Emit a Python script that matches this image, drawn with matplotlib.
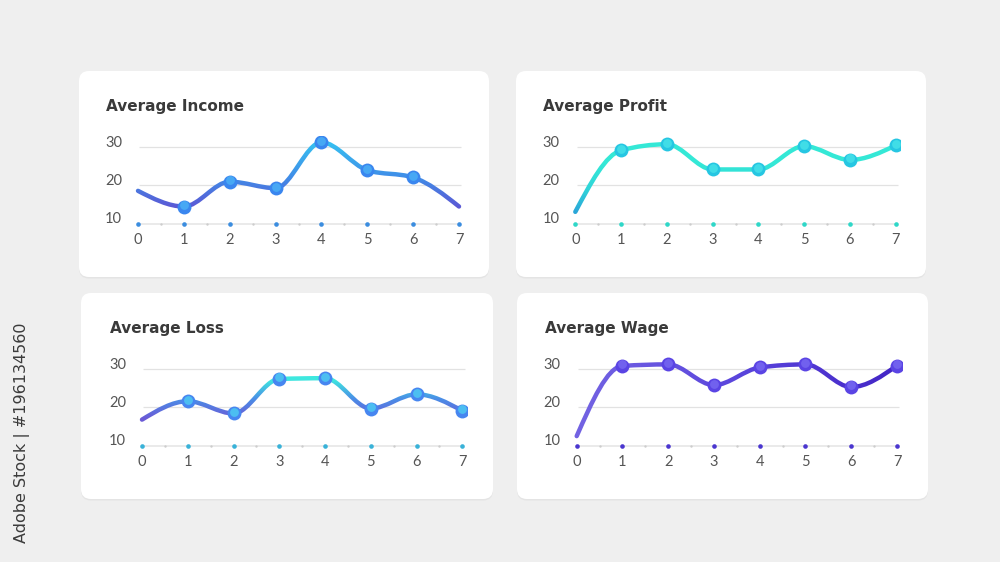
import numpy as np
import matplotlib
matplotlib.use('Agg')
import matplotlib.pyplot as plt
from matplotlib.path import Path
from matplotlib.patches import PathPatch, Rectangle, FancyBboxPatch
from matplotlib.colors import LinearSegmentedColormap
from matplotlib.transforms import IdentityTransform, offset_copy

plt.rcParams['font.family'] = ['Lato', 'DejaVu Sans']

# data
days = [0, 1, 2, 3, 4, 5, 6, 7]
income = [18.6, 14.5, 21.0, 19.3, 31.3, 24.0, 22.1, 14.5]
profit = [13.1, 29.2, 30.8, 24.2, 24.2, 30.3, 26.7, 30.5]
loss = [16.8, 21.6, 18.4, 27.4, 27.6, 19.7, 23.4, 19.1]
wage = [12.5, 30.8, 31.2, 25.8, 30.4, 31.2, 25.3, 30.9]
y_ticks = [10, 20, 30]
titles = ['Average Income', 'Average Profit', 'Average Loss', 'Average Wage']

W, H = 1000, 562
fig = plt.figure(figsize=(10, 5.62), dpi=100)
fig.patch.set_facecolor('#efefef')


def fig_box(x0, y0, x1, y1):
    # pixel box (top-left origin) -> figure fraction rect
    return [x0 / W, 1 - y1 / H, (x1 - x0) / W, (y1 - y0) / H]


def card(x0, y0, x1, y1):
    shadow = FancyBboxPatch((x0, H - y1 - 1.5), x1 - x0, y1 - y0,
                            boxstyle='round,pad=0,rounding_size=10',
                            transform=IdentityTransform(), fc='#e4e4e4',
                            ec='none', zorder=0)
    box = FancyBboxPatch((x0, H - y1), x1 - x0, y1 - y0,
                         boxstyle='round,pad=0,rounding_size=10',
                         transform=IdentityTransform(), fc='white',
                         ec='none', zorder=0)
    fig.add_artist(shadow)
    fig.add_artist(box)


def monotone_path(xs, ys):
    # monotone cubic (like d3.curveMonotoneX) as bezier segments
    x = np.asarray(xs, float)
    y = np.asarray(ys, float)
    h = np.diff(x)
    s = np.diff(y) / h
    m = np.zeros_like(y)
    for i in range(1, len(y) - 1):
        p = (s[i - 1] * h[i] + s[i] * h[i - 1]) / (h[i - 1] + h[i])
        m[i] = (np.sign(s[i - 1]) + np.sign(s[i])) * min(
            abs(s[i - 1]), abs(s[i]), 0.5 * abs(p))
    m[0] = (3 * s[0] - m[1]) / 2
    m[-1] = (3 * s[-1] - m[-2]) / 2
    verts = [(x[0], y[0])]
    codes = [Path.MOVETO]
    for i in range(len(x) - 1):
        d = h[i] / 3
        verts += [(x[i] + d, y[i] + m[i] * d),
                  (x[i + 1] - d, y[i + 1] - m[i + 1] * d),
                  (x[i + 1], y[i + 1])]
        codes += [Path.CURVE4] * 3
    return Path(verts, codes)


def gradient_line(ax, path, colors, axis, lo, hi, n=40):
    cmap = LinearSegmentedColormap.from_list('g', colors)
    edges = np.linspace(lo, hi, n + 1)
    edges[0], edges[-1] = lo - 100, hi + 100
    for k in range(n):
        patch = PathPatch(path, fc='none', ec=cmap(k / (n - 1)), lw=3.2,
                          capstyle='round', joinstyle='round', zorder=4)
        ax.add_patch(patch)
        if axis == 'y':
            clip = Rectangle((-5, edges[k]), 20, edges[k + 1] - edges[k],
                             transform=ax.transData)
        else:
            clip = Rectangle((edges[k], -100), edges[k + 1] - edges[k], 300,
                             transform=ax.transData)
        patch.set_clip_path(clip)


def panel(card_px, title_xy, x0, x7, y10, y30, values, title, line_colors,
          axis, lo, hi, marker_idx, mk, mk_hi, dot_color):
    card(*card_px)
    fig.text(title_xy[0] / W, 1 - title_xy[1] / H, title, fontsize=11,
             fontweight='bold', color='#3a3a3a', va='center', ha='left',
             family='DejaVu Sans')
    ux = (x7 - x0) / 7
    uy = (y10 - y30) / 20
    ax = fig.add_axes(fig_box(x0 - 0.1 * ux, y30 - 3 * uy,
                              x7 + 0.1 * ux, y10 + 1 * uy))
    ax.set_xlim(-0.1, 7.1)
    ax.set_ylim(9, 33)
    ax.axis('off')
    ax.patch.set_alpha(0)

    ax.hlines(y_ticks[1:], 0.03, 7.05, color='#e2e2e2', lw=0.9, zorder=1)
    ax.hlines(y_ticks[0], 0, 7, color='#e6e6e6', lw=1.2, zorder=1)
    halves = np.array(days[:-1]) + 0.5
    ax.scatter(halves, [y_ticks[0]] * len(halves), s=3, color='#cdcdcd',
               zorder=2, linewidths=0)
    ax.scatter(days, [y_ticks[0]] * len(days), s=11, color=dot_color,
               zorder=3, linewidths=0)

    for t in y_ticks:
        ax.annotate(str(t), xy=(0, t), xytext=(-11.5, 3.2),
                    textcoords='offset points', ha='right', va='center',
                    fontsize=10.5, color='#555555')
    for d in days:
        ax.annotate(str(d), xy=(d, y_ticks[0]), xytext=(0, -11.5),
                    textcoords='offset points', ha='center', va='center',
                    fontsize=10.5, color='#555555')

    gradient_line(ax, monotone_path(days, values), line_colors, axis, lo, hi)

    mx = [days[i] for i in marker_idx]
    my = [values[i] for i in marker_idx]
    ax.scatter(mx, my, s=100, color=mk, zorder=5, linewidths=0)
    up = offset_copy(ax.transData, fig=fig, x=0, y=1.6, units='dots')
    ax.scatter(mx, my, s=40, color=mk_hi, alpha=0.75, zorder=6,
               linewidths=0, transform=up)
    return ax


panel((79, 71, 489, 277), (106, 107), 138, 459, 223.7, 147.3, income,
      titles[0], ['#5b57d4', '#3f8fe8', '#36bdf0'], 'y', 14, 31,
      range(1, 7), '#3a86ef', '#4cb4f6', '#3b8ddf')
panel((516, 71, 926, 277), (543, 107), 575.3, 895.7, 223.7, 147.3, profit,
      titles[1], ['#2aa6d8', '#2fd6d8', '#34e8d6'], 'y', 13, 26,
      range(1, 8), '#26c6e2', '#49e6ea', '#2fd7c8')
panel((81, 293, 493, 499), (110, 329), 142, 462.3, 445.7, 369, loss,
      titles[2], ['#6a5ad6', '#4a8de6', '#3ee8df'], 'y', 17, 27.5,
      range(1, 8), '#4786f0', '#4fd2f2', '#39b2d8')
panel((517, 293, 928, 499), (545, 329), 576.7, 897, 445.7, 369, wage,
      titles[3], ['#7262e2', '#5a45dc', '#4326c6'], 'x', 0, 7,
      range(1, 8), '#5a44e4', '#7a6cf2', '#4a36cf')

fig.text(22 / W, 1 - 433 / H, 'Adobe Stock | #196134560', rotation=90,
         ha='center', va='center', fontsize=11.5, color='#3b3b3b',
         family='DejaVu Sans')

fig.savefig('out.png', dpi=100, facecolor=fig.get_facecolor())
